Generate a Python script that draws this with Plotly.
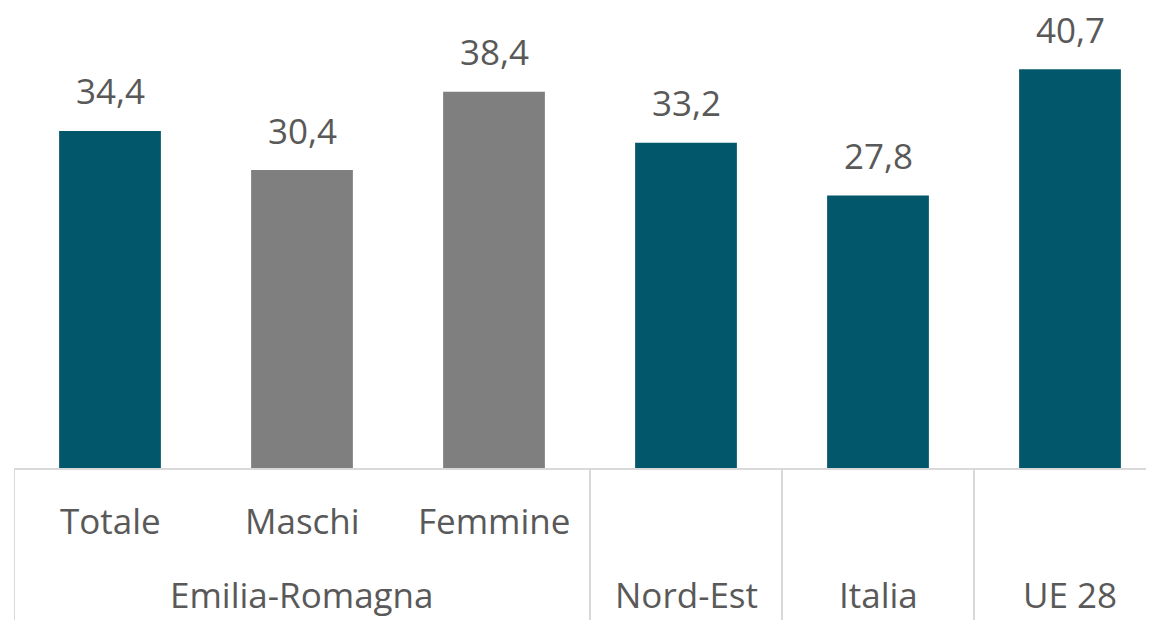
import plotly.graph_objects as go

categories = ["Totale", "Maschi", "Femmine", "Nord-Est", "Italia", "UE 28"]
values = [34.4, 30.4, 38.4, 33.2, 27.8, 40.7]
value_labels = ["34,4", "30,4", "38,4", "33,2", "27,8", "40,7"]
inner_labels = ["Totale", "Maschi", "Femmine"]
group_labels = [("Emilia-Romagna", 1), ("Nord-Est", 3), ("Italia", 4), ("UE 28", 5)]
dividers = [-0.5, 2.5, 3.5, 4.5]

TEAL = "#02586A"
GRAY = "#7F7F7F"
colors = [TEAL, GRAY, GRAY, TEAL, TEAL, TEAL]
TXT = "#595959"
LINE = "#D9D9D9"
FONT = "Open Sans"
FS = 35

# page body has an 8px margin, so the figure is sized/offset to compensate
W, H = 1146, 612
ML, MB = 6, 152
plot_h = H - MB

fig = go.Figure(go.Bar(
    x=list(range(len(categories))), y=values,
    marker=dict(color=colors, line=dict(width=0)),
    width=0.53, hoverinfo="skip",
))

ann = []
for i, (v, t) in enumerate(zip(values, value_labels)):
    ann.append(dict(x=i, y=v, xref="x", yref="y", text=t, showarrow=False,
                    yanchor="middle", yshift=40,
                    font=dict(family=FONT, size=FS, color=TXT)))
for i, t in enumerate(inner_labels):
    ann.append(dict(x=i, y=-(512 - plot_h) / plot_h, xref="x", yref="paper", text=t,
                    showarrow=False, yanchor="middle",
                    font=dict(family=FONT, size=FS, color=TXT)))
for t, xi in group_labels:
    ann.append(dict(x=xi, y=-(586 - plot_h) / plot_h, xref="x", yref="paper", text=t,
                    showarrow=False, yanchor="middle",
                    font=dict(family=FONT, size=FS, color=TXT)))

shapes = []
for d in dividers:
    shapes.append(dict(type="line", xref="x", yref="paper", x0=d, x1=d,
                       y0=0, y1=-MB / plot_h, line=dict(color=LINE, width=2)))

fig.update_layout(
    width=W, height=H,
    margin=dict(l=ML, r=0, t=0, b=MB),
    plot_bgcolor="white", paper_bgcolor="white",
    showlegend=False,
    annotations=ann, shapes=shapes,
    xaxis=dict(range=[-0.5, 5.5 - 12 / 192], showticklabels=False, ticks="",
               showgrid=False, zeroline=False, showline=True, linecolor=LINE,
               linewidth=2, fixedrange=True),
    yaxis=dict(range=[0, plot_h / 9.80], visible=False, showgrid=False,
               zeroline=False, fixedrange=True),
)

fig.write_html("out.html")
